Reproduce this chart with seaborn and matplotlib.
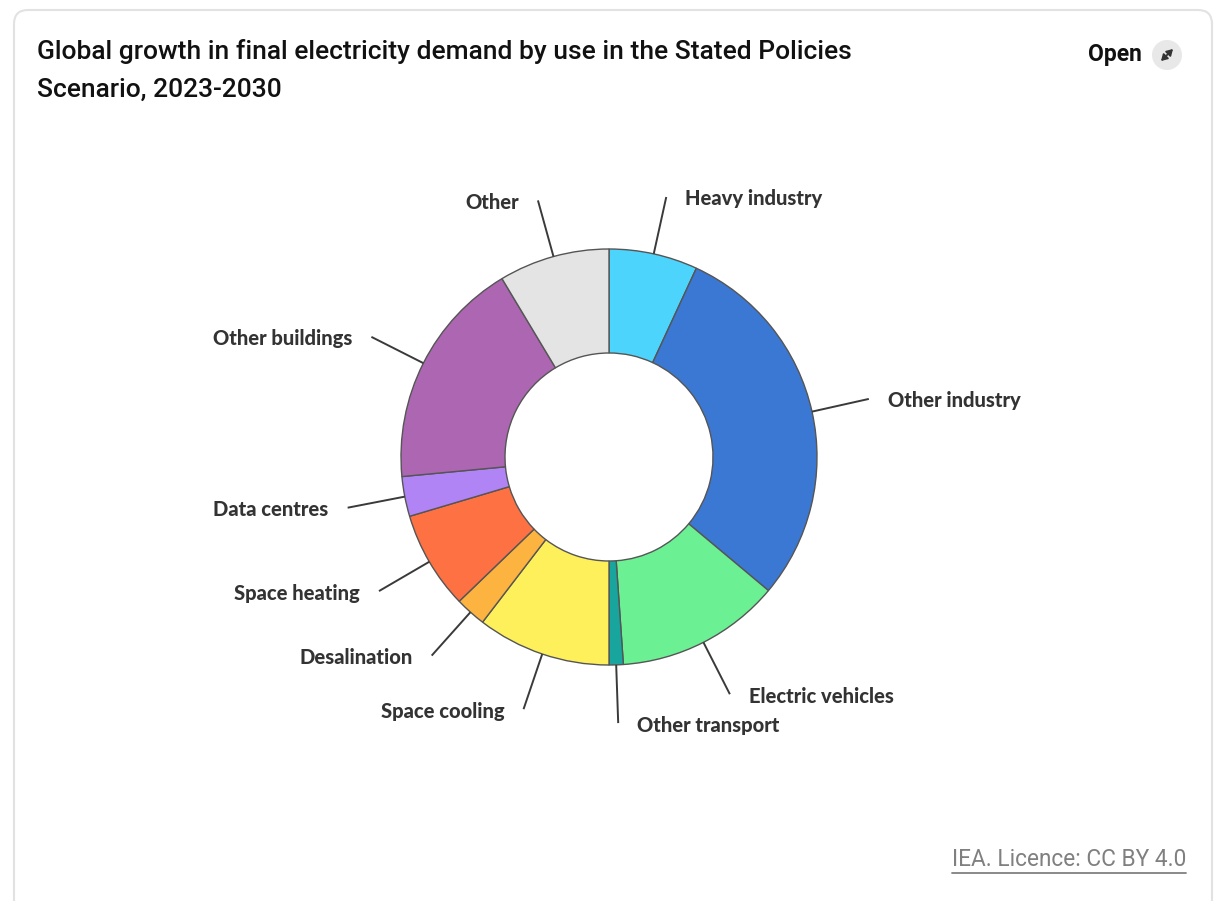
import matplotlib
matplotlib.use("Agg")
import matplotlib.pyplot as plt
import seaborn as sns
import numpy as np
from matplotlib.patches import FancyBboxPatch, Circle

categories = ["Heavy industry", "Other industry", "Electric vehicles", "Other transport",
              "Space cooling", "Desalination", "Space heating", "Data centres",
              "Other buildings", "Other"]
values = [6.9, 29.2, 12.8, 1.1, 10.4, 2.4, 7.6, 3.1, 17.9, 8.6]
colors = ["#4dd4fc", "#3b78d4", "#6bf194", "#17a59e", "#fdf05a",
          "#fdb33f", "#fe7142", "#b084f5", "#ad66b2", "#e4e4e4"]

sns.set_theme(style="white")
plt.rcParams['font.family'] = ['Lato', 'DejaVu Sans']

W, H = 1220, 901
fig = plt.figure(figsize=(12.2, 9.01), dpi=100)
ax = fig.add_axes([0, 0, 1, 1])

cx, cy, R = 609, 457, 208
wedges, _ = ax.pie(values, colors=colors, startangle=-90, counterclock=True,
                   center=(cx, cy), radius=R,
                   wedgeprops=dict(width=R * 0.5, edgecolor="#555555", linewidth=1.0))
ax.set_xlim(0, W)
ax.set_ylim(H, 0)
ax.set_aspect('auto')
ax.axis('off')

# card frame
card = FancyBboxPatch((14, 10), 1198, 910, boxstyle="round,pad=0,rounding_size=14",
                      facecolor="none", edgecolor="#e2e2e2", linewidth=1.5, zorder=0)
ax.add_patch(card)

# leader lines and labels
for w, lab in zip(wedges, categories):
    mid = np.deg2rad((w.theta1 + w.theta2) / 2)
    c, s = np.cos(mid), np.sin(mid)
    x0, y0 = cx + R * c, cy + R * s
    x1, y1 = cx + R * 1.28 * c, cy + R * 1.28 * s
    ax.plot([x0, x1], [y0, y1], color="#3a3a3a", lw=1.4, solid_capstyle="butt")
    side = 1 if c >= 0 else -1
    ax.text(x1 + side * 19, y1 + 2, lab, ha="left" if side > 0 else "right", va="center",
            fontsize=14.5, fontweight="black", color="#333333")

# title
tfam = ["Roboto", "DejaVu Sans"]
fig.text(37 / W, 1 - 52 / H, "Global growth in final electricity demand by use in the Stated Policies",
         fontsize=19, fontweight="medium", color="#111111", va="center", ha="left", family=tfam)
fig.text(37 / W, 1 - 90 / H, "Scenario, 2023-2030",
         fontsize=19, fontweight="medium", color="#111111", va="center", ha="left", family=tfam)

# Open button
fig.text(1142 / W, 1 - 54 / H, "Open", fontsize=16.5, fontweight="bold", color="#111111",
         va="center", ha="right", family=tfam)
ax.add_patch(Circle((1167, 55), 15, facecolor="#e8e8e8", edgecolor="none"))
ax.annotate("", xy=(1173, 49), xytext=(1161, 61),
            arrowprops=dict(arrowstyle="<|-|>,head_length=0.3,head_width=0.18",
                            color="#333333", lw=1.3, shrinkA=0, shrinkB=0))

# licence
lic = ax.text(1186, 860, "IEA. Licence: CC BY 4.0", ha="right", va="center",
              fontsize=16.3, color="#808080", family=tfam)
fig.canvas.draw()
bb = lic.get_window_extent().transformed(ax.transData.inverted())
ax.plot([bb.x0, bb.x1], [bb.y0 + 1, bb.y0 + 1], color="#808080", lw=1.3)

fig.savefig("out.png", dpi=100, facecolor="white")
